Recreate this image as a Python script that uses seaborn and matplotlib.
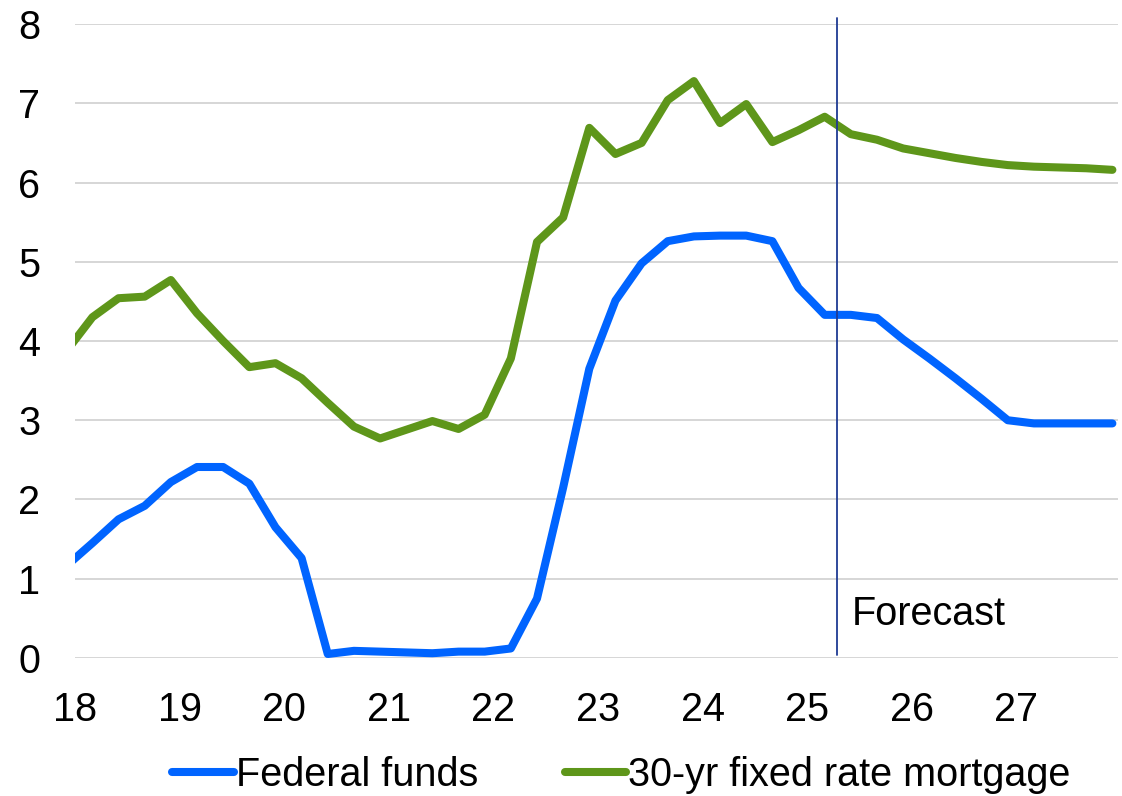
import pandas as pd
import seaborn as sns
import matplotlib.pyplot as plt

# quarterly points, dated at the first day of the last month of each quarter
dates = pd.date_range('2017-12-01', periods=41, freq='3MS')

fed_funds = [1.16, 1.45, 1.75, 1.92, 2.22, 2.41, 2.41, 2.20, 1.65, 1.26,
             0.05, 0.09, 0.08, 0.07, 0.06, 0.08, 0.08, 0.12, 0.75, 2.15,
             3.65, 4.51, 4.98, 5.26, 5.32, 5.33, 5.33, 5.26, 4.67, 4.33,
             4.33, 4.29, 4.02, 3.78, 3.53, 3.27, 3.00, 2.96, 2.96, 2.96, 2.96]

mortgage = [3.87, 4.30, 4.54, 4.56, 4.77, 4.35, 4.00, 3.67, 3.72, 3.53,
            3.22, 2.92, 2.77, 2.88, 2.99, 2.89, 3.07, 3.78, 5.25, 5.56,
            6.69, 6.36, 6.50, 7.04, 7.28, 6.75, 6.99, 6.51, 6.66, 6.83,
            6.61, 6.54, 6.43, 6.37, 6.31, 6.26, 6.22, 6.20, 6.19, 6.18, 6.16]

year_labels = ['18', '19', '20', '21', '22', '23', '24', '25', '26', '27']
forecast_start = 25.28

t = (dates.year - 2000) + (dates.month - 1) / 12

df = pd.DataFrame({
    't': list(t) * 2,
    'rate': fed_funds + mortgage,
    'series': ['Federal funds'] * len(t) + ['30-yr fixed rate mortgage'] * len(t),
})

sns.set_theme(style='white')
plt.rcParams['font.family'] = ['Liberation Sans', 'DejaVu Sans']
plt.rcParams['text.color'] = 'black'
plt.rcParams['xtick.color'] = 'black'
plt.rcParams['ytick.color'] = 'black'

fs = 28.5

fig = plt.figure(figsize=(11.22, 7.96), dpi=100)
ax = fig.add_axes([0.0668, 0.1734, 0.9296, 0.7964])

for y in range(0, 9):
    ax.axhline(y, color='#d6d6d6', lw=1.4, zorder=0)

sns.lineplot(data=df, x='t', y='rate', hue='series', estimator=None, ax=ax,
             palette={'Federal funds': '#0064ff', '30-yr fixed rate mortgage': '#5e961a'},
             linewidth=5.8, legend=True)

ax.plot([forecast_start, forecast_start], [0.04, 8.08], color='#1f3a93', lw=1.3,
        clip_on=False, zorder=5)
ax.text(forecast_start + 0.15, 0.56, 'Forecast', fontsize=fs, va='center', ha='left',
        color='black')

ax.set_xlim(18, 27.97)
ax.set_ylim(0, 8)
ax.set_xticks([int(s) for s in year_labels])
ax.set_xticklabels(year_labels)
ax.set_yticks(range(0, 9))
ax.tick_params(axis='both', labelsize=fs, length=0, colors='black')
ax.tick_params(axis='x', pad=24)
ax.tick_params(axis='y', pad=25)
ax.set_xlabel('')
ax.set_ylabel('')
sns.despine(ax=ax, left=True, bottom=True)

handles, labels = ax.get_legend_handles_labels()
ax.legend_.remove()
fig.legend(handles, labels, loc='center', bbox_to_anchor=(0.554, 0.027), ncol=2,
           frameon=False, fontsize=fs, handlelength=1.55, handletextpad=0.05,
           columnspacing=2.2)

fig.savefig('out.png', dpi=100)
